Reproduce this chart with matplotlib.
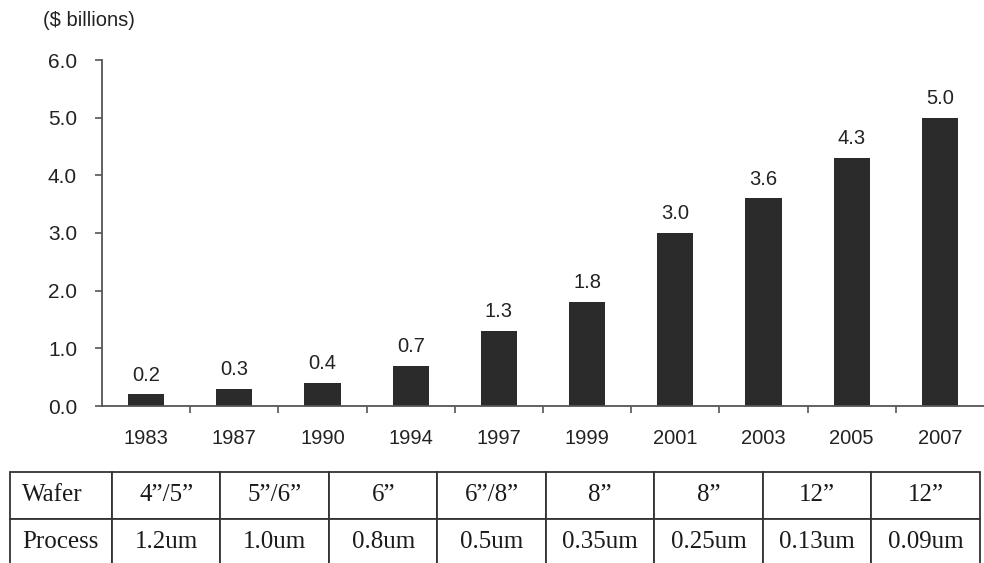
import matplotlib
matplotlib.use("Agg")
import matplotlib.pyplot as plt

years = ["1983", "1987", "1990", "1994", "1997", "1999", "2001", "2003", "2005", "2007"]
values = [0.2, 0.3, 0.4, 0.7, 1.3, 1.8, 3.0, 3.6, 4.3, 5.0]
value_labels = ["0.2", "0.3", "0.4", "0.7", "1.3", "1.8", "3.0", "3.6", "4.3", "5.0"]
yticks = [0.0, 1.0, 2.0, 3.0, 4.0, 5.0, 6.0]
row_labels = ["Wafer", "Process"]
wafer = ["4\u201d/5\u201d", "5\u201d/6\u201d", "6\u201d", "6\u201d/8\u201d", "8\u201d", "8\u201d", "12\u201d", "12\u201d"]
process = ["1.2um", "1.0um", "0.8um", "0.5um", "0.35um", "0.25um", "0.13um", "0.09um"]

W, H = 984, 563
fig = plt.figure(figsize=(W / 100, H / 100), dpi=100)
plt.rcParams['font.family'] = ['Liberation Sans', 'DejaVu Sans']

ax = fig.add_axes([102 / W, 1 - 406 / H, 882 / W, (406 - 60) / H])
x = list(range(len(years)))
ax.bar(x, values, width=0.41, color="#2b2b2b")
for xi, v, lab in zip(x, values, value_labels):
    ax.annotate(lab, (xi, v), xytext=(0, 10), textcoords="offset points",
                ha="center", va="baseline", fontsize=14.5, color="#222222")
ax.set_xlim(-0.5, len(years) - 0.5)
ax.set_ylim(0, 6.0)
ax.set_yticks(yticks)
ax.set_yticklabels([f"{t:.1f}" for t in yticks], fontsize=15, color="#222222")
ax.set_xticks([i + 0.5 for i in range(len(years) - 1)])
ax.set_xticklabels([])
ax.set_xticks(x, minor=True)
ax.set_xticklabels(years, minor=True, fontsize=14.5, color="#222222")
ax.tick_params(axis="x", which="minor", length=0, pad=16.5)
ax.tick_params(axis="x", which="major", length=5, direction="out", color="#555555", width=1.2)
ax.tick_params(axis="y", length=5, direction="out", color="#555555", width=1.2, pad=13)
for s in ["top", "right"]:
    ax.spines[s].set_visible(False)
for s in ["left", "bottom"]:
    ax.spines[s].set_color("#555555")
    ax.spines[s].set_linewidth(1.3)

fig.text(43 / W, 1 - 20 / H, "($ billions)", fontsize=14.5, ha="left", va="center", color="#222222")

# table
tax = fig.add_axes([10 / W, 1 - 565 / H, 970 / W, (565 - 472) / H])
tax.axis("off")
cell_text = [[row_labels[0]] + wafer, [row_labels[1]] + process]
first_w = 102 / 970
other_w = (1 - first_w) / len(wafer)
tbl = tax.table(cellText=cell_text, cellLoc="center", bbox=[0, 0, 1, 1],
                colWidths=[first_w] + [other_w] * len(wafer))
tbl.auto_set_font_size(False)
for (r, c), cell in tbl.get_celld().items():
    cell.set_linewidth(1.3)
    cell.set_edgecolor("#333333")
    cell.get_text().set_fontsize(18)
    cell.get_text().set_fontfamily("Liberation Serif")
    cell.get_text().set_color("#1a1a1a")
    if c == 0:
        cell.get_text().set_ha("left")
        cell.PAD = 0.12

fig.savefig("out.png", dpi=100)
